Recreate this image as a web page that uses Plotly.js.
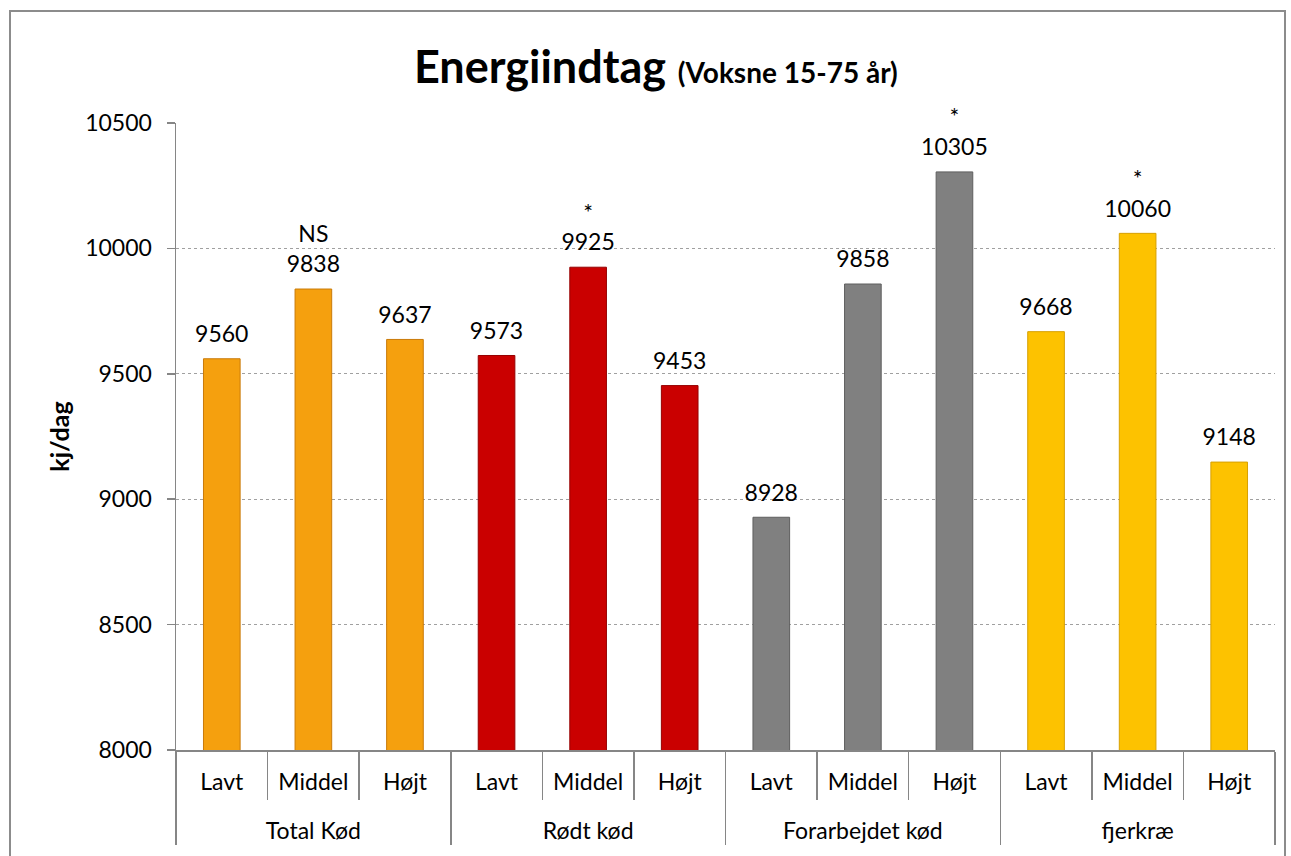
<!DOCTYPE html>
<html>
<head>
<meta charset="utf-8">
<script src="https://cdn.plot.ly/plotly-3.0.1.min.js"></script>
<style>
html,body{margin:0;padding:0;background:#fff;}
#frame{position:absolute;left:9px;top:10px;width:1277px;height:870px;border:2px solid #8c8c8c;box-sizing:border-box;pointer-events:none;z-index:5;}
#chart{position:absolute;left:0;top:0;width:1291px;height:856px;}
</style>
</head>
<body>
<div id="chart"></div>
<div id="frame"></div>
<script>
const groups = ["Total Kød","Total Kød","Total Kød","Rødt kød","Rødt kød","Rødt kød","Forarbejdet kød","Forarbejdet kød","Forarbejdet kød","fjerkræ","fjerkræ","fjerkræ"];
const levels = ["Lavt","Middel","Højt","Lavt","Middel","Højt","Lavt","Middel","Højt","Lavt","Middel","Højt"];
const values = [9560, 9838, 9637, 9573, 9925, 9453, 8928, 9858, 10305, 9668, 10060, 9148];
const significance = ["", "NS", "", "", "*", "", "", "", "*", "", "*", ""];
const yTicks = [8000, 8500, 9000, 9500, 10000, 10500];
const groupColors = {"Total Kød":"#F5A00E","Rødt kød":"#CA0000","Forarbejdet kød":"#808080","fjerkræ":"#FDC200"};
const groupEdges = {"Total Kød":"#C97A08","Rødt kød":"#960000","Forarbejdet kød":"#5E5E5E","fjerkræ":"#D7A000"};

const labels = values.map((v,i)=> significance[i] ? significance[i] + "<br>" + v : String(v));
// level labels get an empty second line so the group row sits lower
const levelLabels = levels.map(l => l + "<br>\u00a0");
const FONT = "Lato, 'Open Sans', sans-serif";

const bars = {
  type: "bar",
  x: [groups, levelLabels],
  y: values,
  marker: {
    color: groups.map(g=>groupColors[g]),
    line: {color: groups.map(g=>groupEdges[g]), width: 1}
  },
  hoverinfo: "skip"
};

const valueLabels = {
  type: "scatter",
  mode: "markers+text",
  x: [groups, levelLabels],
  y: values,
  marker: {size: 16, opacity: 0},
  text: labels,
  textposition: "top center",
  cliponaxis: false,
  textfont: {family: FONT, size: 23, color: "#000"},
  hoverinfo: "skip"
};

const layout = {
  width: 1291, height: 856,
  margin: {l: 176, r: 16, t: 123, b: 106},
  paper_bgcolor: "#fff", plot_bgcolor: "#fff",
  showlegend: false,
  bargap: 0.6,
  title: {
    text: "<b>Energiindtag</b> <b><span style='font-size:28px'>(Voksne 15-75 år)</span></b>",
    font: {family: FONT, size: 45, color: "#000"},
    x: 0.508, xanchor: "center", y: 0.922, yanchor: "middle"
  },
  yaxis: {
    range: [8000, 10500],
    tickvals: yTicks, ticktext: yTicks.map(String),
    ticks: "outside", ticklen: 8, tickcolor: "#868686", tickwidth: 1.5,
    ticklabelstandoff: 10,
    showline: true, linecolor: "#868686", linewidth: 1.5,
    showgrid: true, gridcolor: "#a0a0a0", griddash: "dot", gridwidth: 1,
    zeroline: false,
    tickfont: {family: FONT, size: 23, color: "#000"},
    title: {text: "<b>kj/dag</b>", font: {family: FONT, size: 25, color: "#000"}, standoff: 8}
  },
  xaxis: {
    type: "multicategory",
    range: [-0.5, values.length - 0.5],
    autorange: false,
    showline: true, linecolor: "#868686", linewidth: 1.5,
    ticks: "outside", tickson: "boundaries", ticklen: 48, tickcolor: "#868686", tickwidth: 1.5,
    ticklabelstandoff: 11,
    showdividers: true, dividercolor: "#868686", dividerwidth: 1.5,
    tickfont: {family: FONT, size: 23, color: "#000"}
  }
};

Plotly.newPlot("chart", [bars, valueLabels], layout, {displayModeBar: false, staticPlot: true});
</script>
</body>
</html>
